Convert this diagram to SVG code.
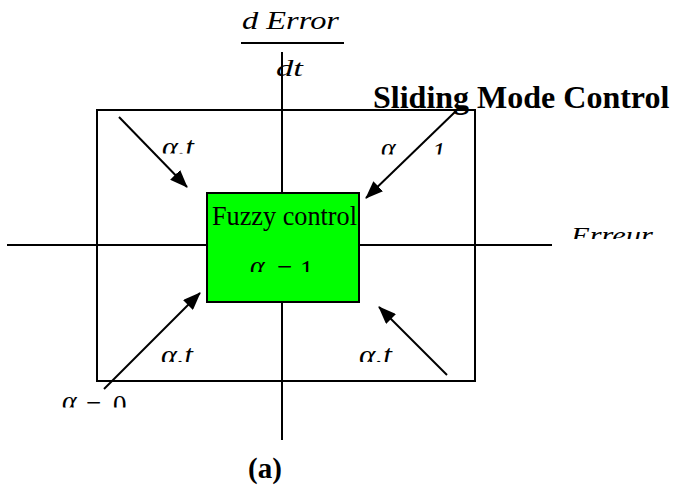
<svg xmlns="http://www.w3.org/2000/svg" width="685" height="489" viewBox="0 0 685 489">
<style>
.ln{stroke:#000;stroke-width:2;fill:none}
.ar{stroke:#000;stroke-width:2;fill:none;marker-end:url(#ah)}
.tm{font-family:"Liberation Serif","Times New Roman",serif;fill:#000}
.it{font-style:italic}
.bd{font-weight:bold}
</style>
<defs>
<marker id="ah" markerUnits="userSpaceOnUse" markerWidth="18" markerHeight="14" refX="17" refY="7" orient="auto">
<path d="M0,0 L18,7 L0,14 Z" fill="#000"/>
</marker>
<clipPath id="c1"><rect x="0" y="0" width="685" height="272"/></clipPath>
<clipPath id="c2"><rect x="0" y="0" width="685" height="407.5"/></clipPath>
<clipPath id="c3"><rect x="0" y="0" width="685" height="153.5"/></clipPath>
<clipPath id="c4"><rect x="0" y="0" width="685" height="154.5"/></clipPath>
<clipPath id="c5"><rect x="0" y="0" width="685" height="362"/></clipPath>
<clipPath id="c6"><rect x="0" y="0" width="685" height="239"/></clipPath>
<clipPath id="c7"><rect x="0" y="0" width="685" height="76"/></clipPath>
</defs>
<g id="region">
<rect x="97" y="110" width="378" height="271" class="ln"/>
</g>
<g id="connectors">
<line x1="7" y1="245" x2="552" y2="245" class="ln"/>
<line x1="282" y1="52" x2="282" y2="440" class="ln"/>
<line x1="119" y1="117" x2="187" y2="187" class="ar"/>
<line x1="456" y1="111" x2="366" y2="198" class="ar"/>
<line x1="104" y1="389" x2="200" y2="293" class="ar"/>
<line x1="447" y1="375" x2="379" y2="307" class="ar"/>
</g>
<g id="fuzzy">
<rect x="207" y="193" width="152" height="109" fill="#00ff00" stroke="#000" stroke-width="2"/>
<text x="212" y="225" class="tm" font-size="26.5" textLength="145" lengthAdjust="spacingAndGlyphs">Fuzzy control</text>
<g clip-path="url(#c1)">
<text x="250" y="275" class="tm it" font-size="28">α</text>
<text x="277" y="279" class="tm" font-size="27">=</text>
<text x="300" y="279" class="tm" font-size="27">1</text>
</g>
</g>
<g id="y-label">
<text x="242" y="29" class="tm it" font-size="26" textLength="97" lengthAdjust="spacingAndGlyphs">d Error</text>
<line x1="241" y1="43" x2="344" y2="43" class="ln"/>
<text x="276" y="76" class="tm it" font-size="24" textLength="27" lengthAdjust="spacingAndGlyphs" clip-path="url(#c7)">dt</text>
</g>
<g id="x-label">
<text x="571" y="243" class="tm it" font-size="24" textLength="82" lengthAdjust="spacingAndGlyphs" clip-path="url(#c6)">Erreur</text>
</g>
<g id="smc">
<text x="373" y="108" class="tm bd" font-size="32">Sliding Mode Control</text>
</g>
<g id="labels">
<text x="162" y="156" class="tm it" font-size="27" textLength="32" lengthAdjust="spacingAndGlyphs" clip-path="url(#c3)">α.t</text>
<g clip-path="url(#c4)">
<text x="381" y="157" class="tm it" font-size="28">α</text>
<text x="432" y="161" class="tm it" font-size="27">1</text>
</g>
<text x="161" y="364" class="tm it" font-size="27" textLength="32" lengthAdjust="spacingAndGlyphs" clip-path="url(#c5)">α.t</text>
<text x="359" y="364" class="tm it" font-size="27" textLength="33" lengthAdjust="spacingAndGlyphs" clip-path="url(#c5)">α.t</text>
<g clip-path="url(#c2)">
<text x="62" y="410" class="tm it" font-size="28">α</text>
<text x="86" y="415" class="tm" font-size="27">=</text>
<text x="113" y="414" class="tm" font-size="27">0</text>
</g>
</g>
<g id="caption">
<text x="248" y="478" class="tm bd" font-size="29">(a)</text>
</g>
</svg>
